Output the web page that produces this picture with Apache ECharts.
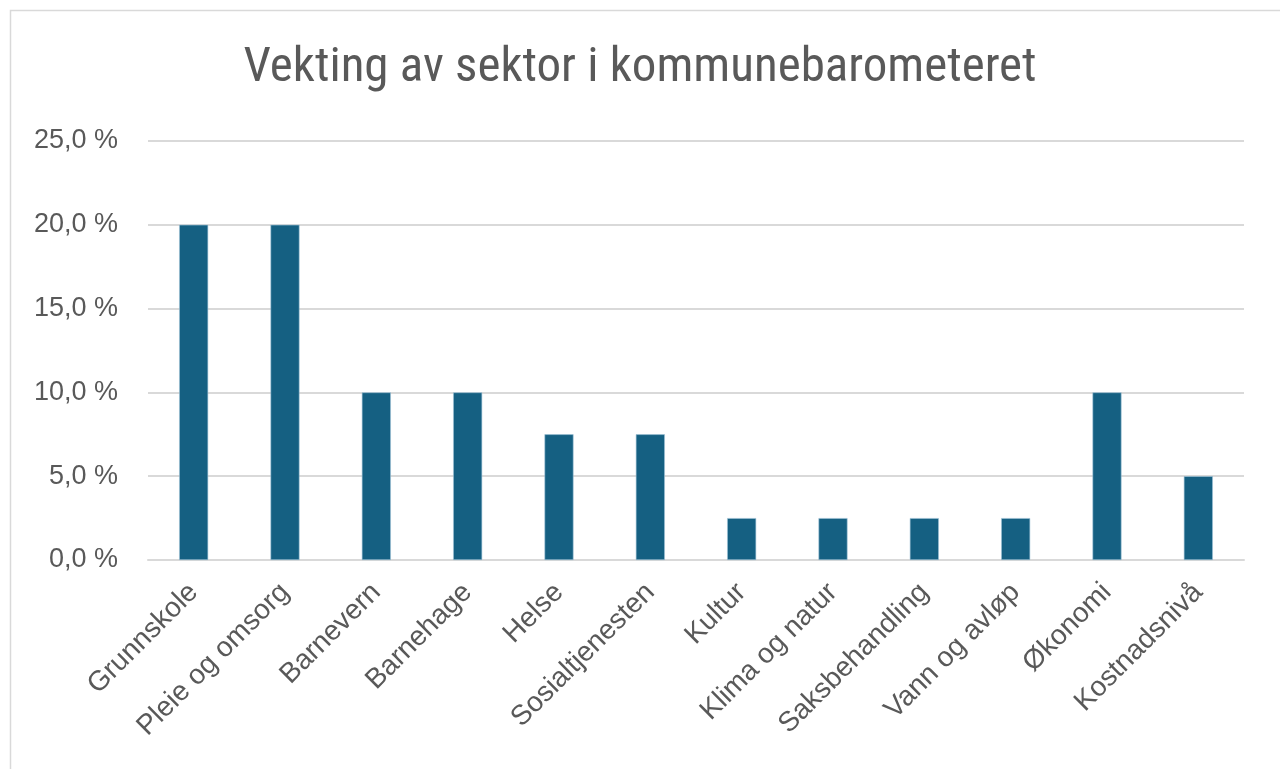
<!DOCTYPE html>
<html>
<head>
<meta charset="utf-8">
<script src="https://cdn.jsdelivr.net/npm/echarts@6/dist/echarts.min.js"></script>
<style>
html,body{margin:0;padding:0;background:#fff;}
#main{width:1280px;height:769px;}
</style>
</head>
<body>
<div id="main"></div>
<script>
const title = 'Vekting av sektor i kommunebarometeret';
const categories = ['Grunnskole','Pleie og omsorg','Barnevern','Barnehage','Helse','Sosialtjenesten','Kultur','Klima og natur','Saksbehandling','Vann og avløp','Økonomi','Kostnadsnivå'];
const values = [20, 20, 10, 10, 7.5, 7.5, 2.5, 2.5, 2.5, 2.5, 10, 5];

const chart = echarts.init(document.getElementById('main'), null, {renderer:'canvas'});
chart.setOption({
  animation:false,
  backgroundColor:'#ffffff',
  graphic:[{
    type:'rect', left:8, top:8, shape:{width:1300, height:800},
    style:{fill:'none', stroke:'#d9d9d9', lineWidth:1.5}, silent:true
  }],
  title:{
    text:title, left:'center', top:39,
    textStyle:{fontFamily:'Roboto Condensed, Liberation Sans Narrow, Liberation Sans', fontSize:49, fontWeight:'normal', color:'#595959'}
  },
  grid:{left:148, right:36, top:141, bottom:209, containLabel:false},
  xAxis:{
    type:'category', data:categories,
    axisLine:{show:true, lineStyle:{color:'#d9d9d9', width:2}},
    axisTick:{show:false},
    axisLabel:{rotate:45, interval:0, margin:28, fontSize:28, color:'#595959', fontFamily:'Liberation Sans'}
  },
  yAxis:{
    type:'value', min:0, max:25, interval:5,
    axisLine:{show:false}, axisTick:{show:false},
    splitLine:{lineStyle:{color:'#d9d9d9', width:2}},
    axisLabel:{margin:30, fontSize:27, color:'#595959', fontFamily:'Liberation Sans',
      formatter:v=>v.toFixed(1).replace('.',',')+' %'}
  },
  series:[{
    type:'bar', data:values, barWidth:29,
    itemStyle:{color:'#156082', borderColor:'#9fc3d6', borderWidth:0.6}
  }]
});
</script>
</body>
</html>
